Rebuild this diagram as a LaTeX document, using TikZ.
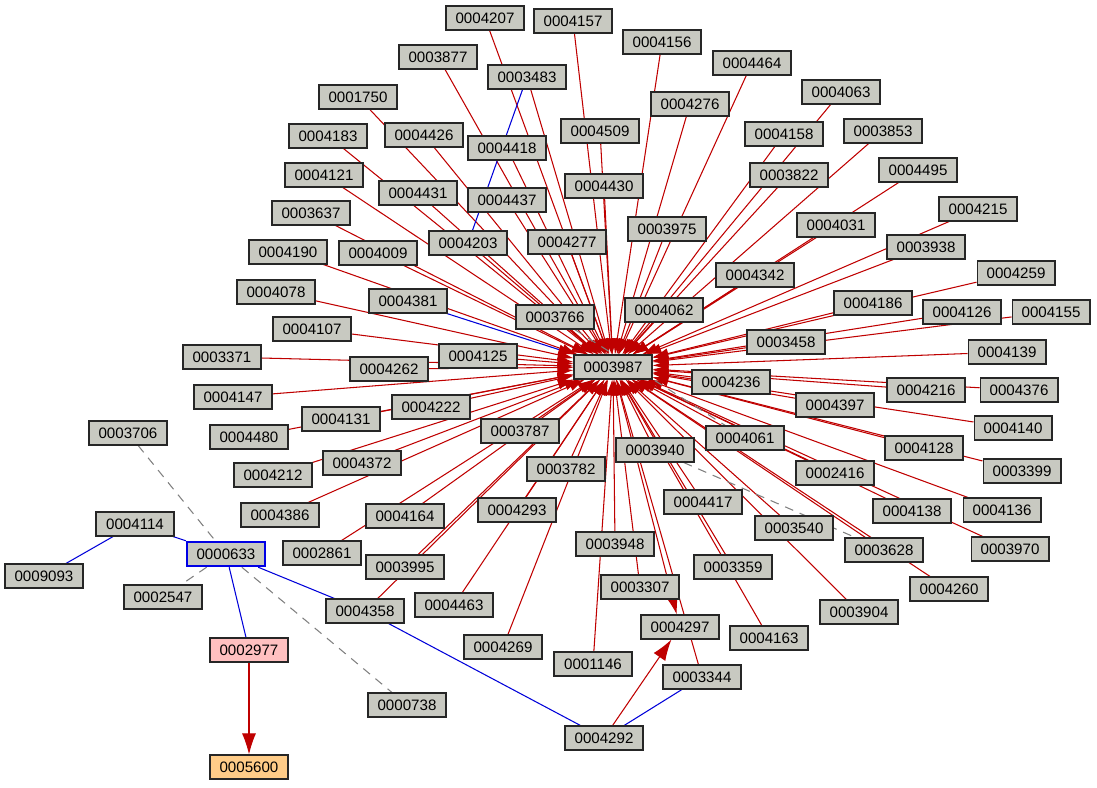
\documentclass[tikz,border=0pt]{standalone}
\usepackage{fontspec}
\setmainfont{Liberation Sans}
\usetikzlibrary{arrows.meta}
\pgfdeclarelayer{background}
\pgfsetlayers{background,main}
\begin{document}
\begin{tikzpicture}[x=0.02cm,y=-0.02cm,
            item/.style = {rectangle, draw=black!85, fill={rgb,255:red,200;green,201;blue,193}, line width=0.6pt,
                           minimum width=1.56cm, minimum height=0.48cm, inner sep=0pt,
                           font=\fontsize{8.6}{10}\selectfont},
            red edge/.style = {draw=red!75!black, line width=0.6pt},
            blue edge/.style = {draw=blue!85!black, line width=0.6pt},
            dash edge/.style = {draw=gray, dashed, dash pattern=on 5pt off 4pt, line width=0.6pt},
        ]
            \useasboundingbox (0,0) rectangle (1097,787);

            % Hub
            \node[item] (h) at (613,367) {0003987};

            % Nodes around the hub
            \foreach \n/\x/\y in {
                0004207/485/18, 0004157/573/21, 0004156/662/42, 0003877/438/57,
                0003483/527/77, 0004464/752/63, 0004063/841/92, 0001750/358/97,
                0004276/690/104, 0004509/600/131, 0004183/328/136, 0004426/424/135,
                0004418/507/148, 0004158/784/134, 0003853/883/131, 0004121/324/175,
                0003822/789/175, 0004495/918/170, 0004430/604/186, 0004431/418/193,
                0004437/507/200, 0003637/311/213, 0003975/667/229, 0004031/836/225,
                0004215/978/209, 0004203/468/243, 0004277/567/242, 0004190/288/252,
                0004009/378/253, 0003938/926/247, 0004342/755/275, 0004259/1016/273,
                0004078/276/292, 0004381/408/301, 0004186/873/303, 0004126/962/312,
                0004155/1051/312, 0003766/555/317, 0004062/664/310, 0003458/786/342,
                0004107/312/329, 0004125/478/356, 0004139/1007/352, 0003371/222/357,
                0004262/389/369, 0004236/731/382, 0004216/926/390, 0004376/1019/390,
                0004147/233/397, 0004397/835/405, 0004222/431/407, 0004131/341/419,
                0004480/249/437, 0003787/520/431, 0004061/745/438, 0004140/1013/428,
                0004128/924/448, 0003940/655/450, 0003782/566/469, 0004372/362/463,
                0004212/273/475, 0002416/835/473, 0003399/1022/471, 0004417/703/502,
                0004293/517/510, 0004136/1002/510, 0004386/280/515, 0004164/405/516,
                0004138/912/511, 0003540/794/528, 0002861/322/553, 0003948/615/544,
                0003628/884/550, 0003970/1010/549, 0003995/405/567, 0003359/733/567,
                0003307/640/587, 0004260/949/589, 0004358/365/611, 0004463/454/605,
                0003904/859/612, 0004297/680/627, 0004163/769/638, 0004269/503/647,
                0001146/593/664, 0003344/702/677, 0000738/407/705, 0004292/604/738,
                0003706/128/433, 0004114/135/524, 0009093/44/576, 0002547/163/597}
                \node[item] (n\n) at (\x,\y) {\n};

            % Left cluster
            \node[item, draw=blue!90!black, line width=1.4pt] (n0000633) at (226,554) {0000633};
            \node[item, fill={rgb,255:red,255;green,192;blue,192}] (n0002977) at (249,650) {0002977};
            \node[item, fill={rgb,255:red,255;green,204;blue,136}] (n0005600) at (249,767) {0005600};

            \begin{pgfonlayer}{background}
            % Edges into the hub
            \foreach \n in {
                0004207, 0004157, 0004156, 0003877, 0003483, 0004464, 0004063, 0001750,
                0004276, 0004509, 0004183, 0004426, 0004418, 0004158, 0003853, 0004121,
                0003822, 0004495, 0004430, 0004431, 0004437, 0003637, 0003975, 0004031,
                0004215, 0004203, 0004277, 0004190, 0004009, 0003938, 0004342, 0004259,
                0004078, 0004186, 0004126, 0004155, 0003766, 0004062, 0003458,
                0004107, 0004125, 0004139, 0003371, 0004262, 0004236, 0004216, 0004376,
                0004147, 0004397, 0004222, 0004131, 0004480, 0003787, 0004061, 0004140,
                0004128, 0003940, 0003782, 0004372, 0004212, 0002416, 0003399, 0004417,
                0004293, 0004136, 0004386, 0004164, 0004138, 0003540, 0002861, 0003948,
                0003628, 0003970, 0003995, 0003359, 0003307, 0004260, 0004358, 0004463,
                0003904, 0004163, 0004269, 0001146, 0003344}
                \draw[red edge, -{Latex[length=9pt,width=6pt]}] (n\n) -- (h);
            \draw[blue edge, -{Latex[length=9pt,width=6pt,color=red!75!black]}] (n0004381) -- (h);

            % Out of the hub
            \draw[red edge, -{Latex[length=12pt,width=8pt]}] (h) -- (n0004297);
            \draw[red edge, -{Latex[length=12pt,width=8pt]}] (n0004292) -- (n0004297);
            \draw[red edge, -{Latex[length=12pt,width=8pt]}] (n0002977) -- (n0005600);

            % Blue links
            \draw[blue edge] (n0003483) -- (n0004203);
            \draw[blue edge] (n0009093) -- (n0004114);
            \draw[blue edge] (n0004114) -- (n0000633);
            \draw[blue edge] (n0000633) -- (n0002977);
            \draw[blue edge] (n0000633) -- (n0004358);
            \draw[blue edge] (n0004358) -- (n0004292);
            \draw[blue edge] (n0004292) -- (n0003344);

            % Dashed links
            \draw[dash edge] (n0003706) -- (n0000633);
            \draw[dash edge] (n0000633) -- (n0000738);
            \draw[dash edge] (n0000633) -- (n0002547);
            \draw[dash edge] (n0003940) -- (n0003628);
            \draw[dash edge] (n0003766) -- (n0004061);
            \end{pgfonlayer}
        \end{tikzpicture}
\end{document}
